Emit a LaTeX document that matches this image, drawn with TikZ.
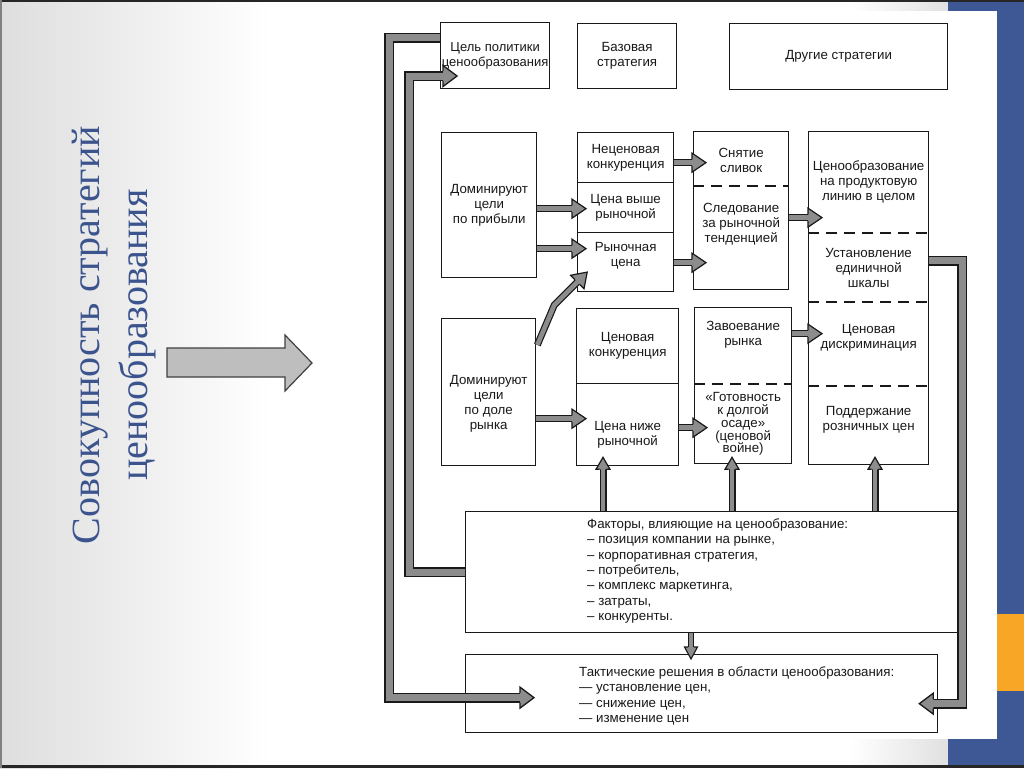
\documentclass[tikz,border=0pt]{standalone}
\usepackage{fontspec}
\setmainfont{Liberation Sans}
\newfontfamily\titlefont{Liberation Serif}
\usetikzlibrary{calc}
\definecolor{slideblue}{RGB}{62,88,150}
\definecolor{slideorange}{RGB}{248,166,38}
\definecolor{titleblue}{RGB}{60,84,142}
\definecolor{ink}{RGB}{25,25,25}
\definecolor{arrowfill}{RGB}{140,140,140}
\definecolor{bigfill}{RGB}{190,190,190}
\tikzset{
  box/.style={draw=ink, line width=1.3pt, anchor=north west, inner sep=0pt, align=center, text=ink, font=\fontsize{13.3}{15}\selectfont},
  txt/.style={align=center, text=ink, inner sep=0pt, font=\fontsize{13.3}{15}\selectfont},
  sepline/.style={draw=ink, line width=1.3pt, dash pattern=on 11pt off 7pt},
  shaft/.style={draw=ink, line width=1.2pt, double=arrowfill, double distance=4.6pt},
  loopshaft/.style={draw=ink, line width=1.4pt, double=arrowfill, double distance=7pt},
  thinshaft/.style={draw=ink, line width=1.1pt, double=arrowfill, double distance=3.6pt},
  head/.pic={
    \fill[arrowfill] (0,-9.5) -- (14,0) -- (0,9.5) -- cycle;
    \draw[ink, line width=1.2pt, line join=miter] (0,-3.4) -- (0,-9.5) -- (14,0) -- (0,9.5) -- (0,3.4);
  },
  uphead/.pic={
    \fill[arrowfill] (0,-7) -- (12,0) -- (0,7) -- cycle;
    \draw[ink, line width=1.2pt, line join=miter] (0,-3.4) -- (0,-7) -- (12,0) -- (0,7) -- (0,3.4);
  },
  bighead/.pic={
    \fill[arrowfill] (0,-10.5) -- (14,0) -- (0,10.5) -- cycle;
    \draw[ink, line width=1.3pt, line join=miter] (0,-4.9) -- (0,-10.5) -- (14,0) -- (0,10.5) -- (0,4.9);
  },
  smallhead/.pic={
    \fill[arrowfill] (0,-6.5) -- (12,0) -- (0,6.5) -- cycle;
    \draw[ink, line width=1.1pt, line join=miter] (0,-2.9) -- (0,-6.5) -- (12,0) -- (0,6.5) -- (0,2.9);
  },
}
\begin{document}
\begin{tikzpicture}[x=1pt, y=-1pt]
\useasboundingbox (0,0) rectangle (1024,768);
% slide background
\fill[white] (0,0) rectangle (1024,768);
\shade[left color=black!13, right color=white] (0,0) rectangle (270,768);
\shade[left color=white, right color=black!12] (850,0) rectangle (948,11);
\shade[left color=white, right color=black!12] (850,739) rectangle (948,766);
\fill[slideblue] (948,0) rectangle (1024,768);
\fill[white] (940,11) rectangle (997,739);
\fill[slideorange] (997,614) rectangle (1024,691);
\draw[black!85, line width=2pt] (0,1) -- (1024,1);
\draw[black!85, line width=3pt] (0,766.5) -- (1024,766.5);
\draw[black!50, line width=1.5pt] (0.75,0) -- (0.75,768);

% title and big arrow
\node[rotate=90, align=center, text=titleblue, inner sep=0pt,
      font=\titlefont\fontsize{40}{48}\selectfont] (title) at (114,335)
      {Совокупность стратегий\\ценообразования};
\draw[draw=black!75, fill=bigfill, line width=1.2pt, line join=miter]
  (167,348) -- (285,348) -- (285,335) -- (312,363) -- (285,391) -- (285,377) -- (167,377) -- cycle;

% top row
\node[box, minimum width=109pt, minimum height=66pt, font=\fontsize{13}{15}\selectfont] (goal) at (440,22) {Цель политики\\ценообразования};
\node[box, minimum width=99pt, minimum height=65pt] (basic) at (577,23) {Базовая\\стратегия};
\node[box, minimum width=218pt, minimum height=66pt] (other) at (729,23) {Другие стратегии};

% profit branch
\node[box, minimum width=95pt, minimum height=145pt] (profit) at (441,132) {Доминируют\\цели\\по прибыли};
\node[box, minimum width=96pt, minimum height=50pt] (nc1) at (577,132) {Неценовая\\конкуренция};
\node[box, minimum width=96pt, minimum height=50pt] (nc2) at (577,182) {Цена выше\\рыночной};
\node[box, minimum width=96pt, minimum height=59pt] (nc3) at (577,232) {};
\node[txt] (nc3t) at ($(nc3.north)+(0,24)$) {Рыночная\\цена};

\node[box, minimum width=95pt, minimum height=158pt] (c3a) at (693,131) {};
\draw[sepline] ($(c3a.north west)+(0,55)$) -- ($(c3a.north east)+(0,55)$);
\node[txt] (skim) at ($(c3a.north)+(0,29.5)$) {Снятие\\сливок};
\node[txt] (follow) at ($(c3a.north)+(0,93)$) {Следование\\за рыночной\\тенденцией};

\node[box, minimum width=120pt, minimum height=333pt] (c4) at (808,131) {};
\draw[sepline] ($(c4.north west)+(0,102)$) -- ($(c4.north east)+(0,102)$);
\draw[sepline] ($(c4.north west)+(0,171)$) -- ($(c4.north east)+(0,171)$);
\draw[sepline] ($(c4.north west)+(0,255)$) -- ($(c4.north east)+(0,255)$);
\node[txt] (line) at ($(c4.north)+(0,51)$) {Ценообразование\\на продуктовую\\линию в целом};
\node[txt] (scale) at ($(c4.north)+(0,137)$) {Установление\\единичной\\шкалы};
\node[txt] (discr) at ($(c4.north)+(0,207)$) {Ценовая\\дискриминация};
\node[txt] (retail) at ($(c4.north)+(0,289)$) {Поддержание\\розничных цен};

% share branch
\node[box, minimum width=94pt, minimum height=147pt] (share) at (441,318) {};
\node[txt] (sharet) at ($(share.north)+(0,86)$) {Доминируют\\цели\\по доле\\рынка};
\node[box, minimum width=102pt, minimum height=75pt] (lm1) at (576,308) {Ценовая\\конкуренция};
\node[box, minimum width=102pt, minimum height=82pt] (lm2) at (576,383) {};
\node[txt] (lm2t) at ($(lm2.north)+(0,51.5)$) {Цена ниже\\рыночной};

\node[box, minimum width=97pt, minimum height=156pt] (c3b) at (694,307) {};
\draw[sepline] ($(c3b.north west)+(0,77)$) -- ($(c3b.north east)+(0,77)$);
\node[txt] (conq) at ($(c3b.north)+(0,28)$) {Завоевание\\рынка};
\node[txt, font=\fontsize{13.3}{12.8}\selectfont] (siege) at ($(c3b.north)+(0,117)$) {«Готовность\\к долгой\\осаде»\\(ценовой\\войне)};

% factors and tactics
\node[box, minimum width=493pt, minimum height=121pt] (factors) at (465,511) {};
\node[txt, align=left, anchor=west, font=\fontsize{13.3}{15.3}\selectfont] (ftext) at ($(factors.north west)+(122,60)$)
  {Факторы, влияющие на ценообразование:\\– позиция компании на рынке,\\– корпоративная стратегия,\\– потребитель,\\– комплекс маркетинга,\\– затраты,\\– конкуренты.};
\node[box, minimum width=472pt, minimum height=78pt] (tactics) at (465,654) {};
\node[txt, align=left, anchor=west, font=\fontsize{13.3}{15.3}\selectfont] (ttext) at ($(tactics.north west)+(114,42)$)
  {Тактические решения в области ценообразования:\\— установление цен,\\— снижение цен,\\— изменение цен};

% horizontal arrows
\draw[shaft] ($(nc1.east)+(0,5)$) -- ($(c3a.west|-nc1.east)+(-1,5)$) coordinate (h1);
\pic at (h1) {head};
\draw[shaft] ($(profit.east)+(0,3.5)$) -- ($(nc2.west|-profit.east)+(-5,3.5)$) coordinate (h2);
\pic at (h2) {head};
\draw[shaft] ($(profit.east)+(0,43.5)$) -- ($(nc3.west|-profit.east)+(-5,43.5)$) coordinate (h3);
\pic at (h3) {head};
\draw[shaft] ($(nc3.east)+(0,0.5)$) -- ($(c3a.west|-nc3.east)+(-1,0.5)$) coordinate (h4);
\pic at (h4) {head};
\draw[shaft] ($(c3a.east)+(0,7)$) -- ($(c4.west|-c3a.east)+(0,7)$) coordinate (h5);
\pic at (h5) {head};
\draw[shaft] ($(share.north east)+(1,27)$) -- ++(17,-40) -- ++(23,-23) coordinate (h6);
\pic[rotate=45] at (h6) {head};
\draw[shaft] ($(share.east)+(0,26.5)$) -- ($(lm2.west|-share.east)+(-4,26.5)$) coordinate (h7);
\pic at (h7) {head};
\draw[shaft] ($(lm2.east)+(0,3)$) -- ($(c3b.west|-lm2.east)+(-1,3)$) coordinate (h8);
\pic at (h8) {head};
\draw[shaft] ($(c3b.east)+(0,-52)$) -- ($(c4.west|-c3b.east)+(0,-52)$) coordinate (h9);
\pic at (h9) {head};

% vertical arrows from factors
\coordinate (v1) at ($(factors.north west)+(138,0)$);
\coordinate (v2) at ($(factors.north west)+(267,0)$);
\coordinate (v3) at ($(factors.north west)+(410,0)$);
\coordinate (v4) at ($(factors.south west)+(226,0)$);
\draw[shaft] (v1) -- ($(v1|-lm2.south)+(0,3)$) coordinate (u1);
\pic[rotate=90] at (u1) {uphead};
\draw[shaft] (v2) -- ($(v2|-c3b.south)+(0,5)$) coordinate (u2);
\pic[rotate=90] at (u2) {uphead};
\draw[shaft] (v3) -- ($(v3|-c4.south)+(0,4)$) coordinate (u3);
\pic[rotate=90] at (u3) {uphead};
\draw[thinshaft] (v4) -- ($(v4|-tactics.north)+(0,-7)$) coordinate (u4);
\pic[rotate=-90] at (u4) {smallhead};

% feedback loops
\coordinate (lo) at ($(tactics.west)+(-76,4)$);
\draw[loopshaft] ($(goal.north west)+(0,16)$) -| (lo) -- ($(lo)+(131,0)$) coordinate (l1);
\pic at (l1) {bighead};
\coordinate (li) at ($(goal.north west)+(-31,54)$);
\draw[loopshaft] (factors.west) -| (li) -- ($(li)+(34,0)$) coordinate (l2);
\pic at (l2) {bighead};
\coordinate (ro) at ($(tactics.east)+(24,10)$);
\draw[loopshaft] ($(c4.east)+(0,-37.5)$) -| (ro) -- ($(ro)+(-29,0)$) coordinate (l3);
\pic[rotate=180] at (l3) {bighead};
\end{tikzpicture}
\end{document}
